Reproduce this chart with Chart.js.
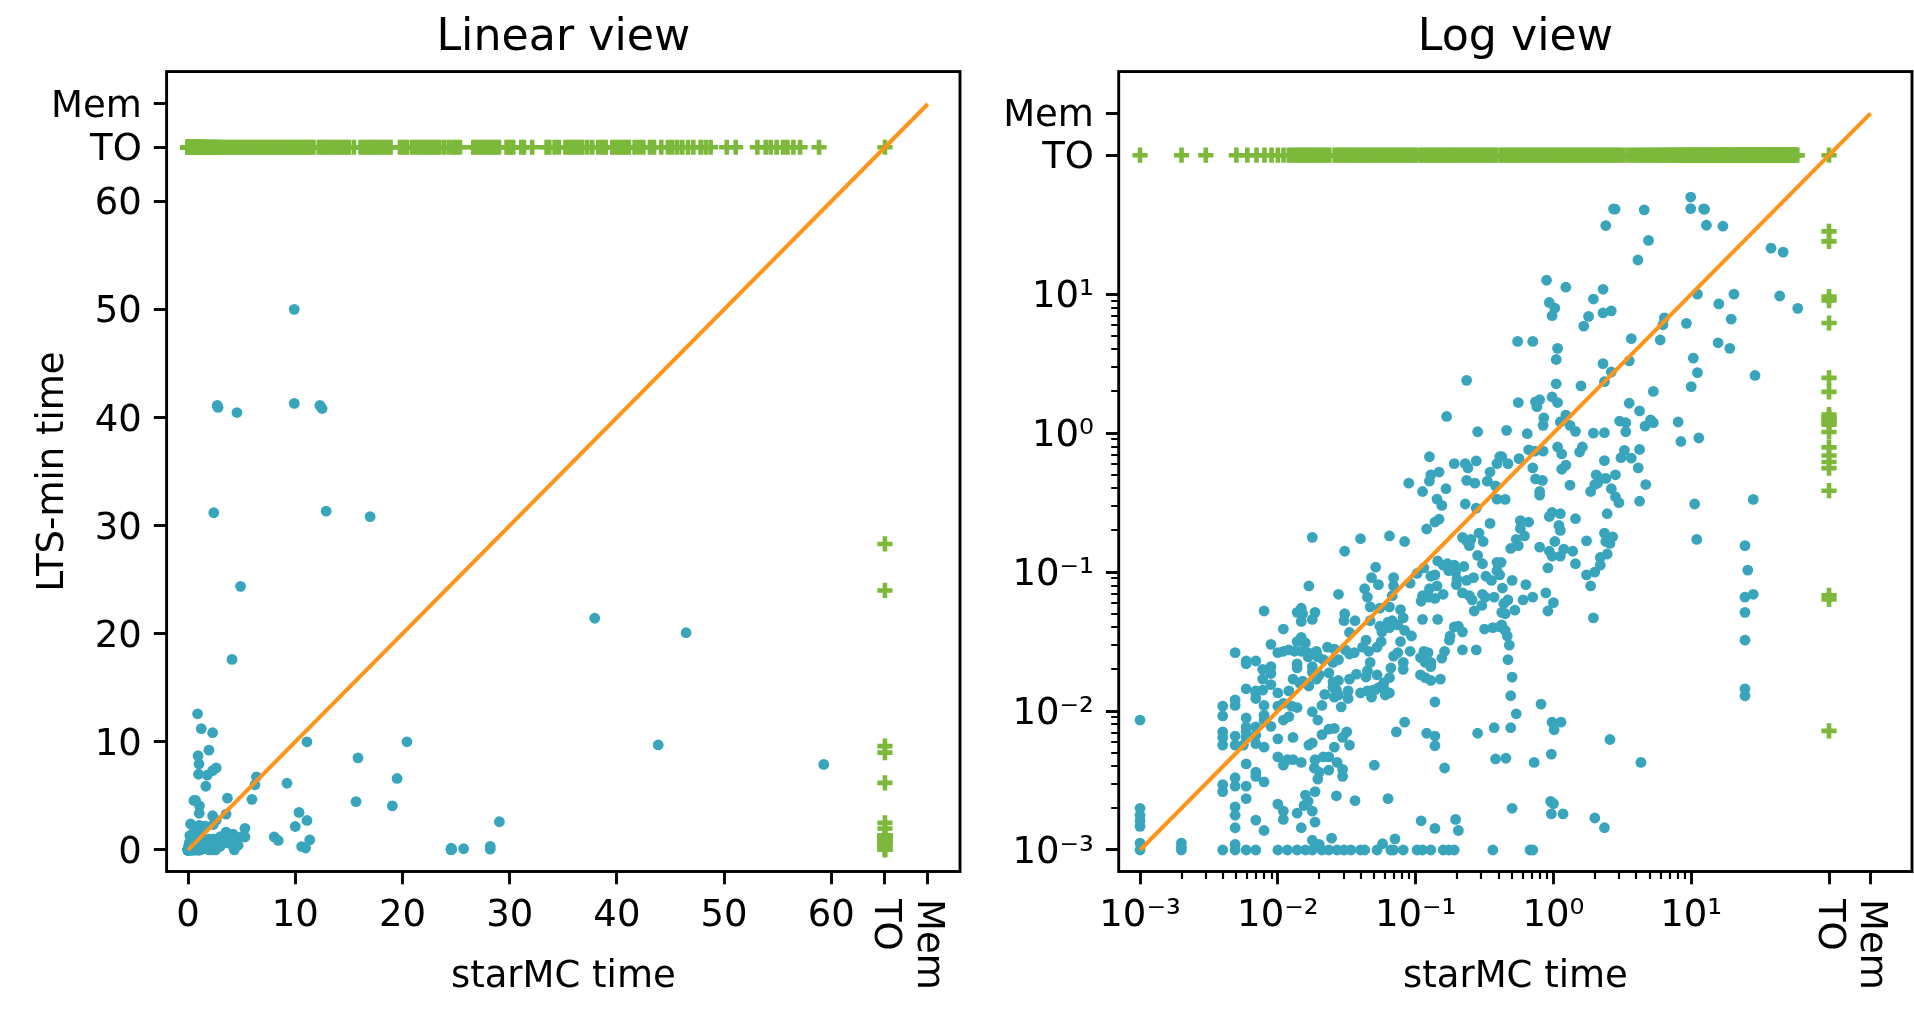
<!DOCTYPE html>
<html>
<head>
<meta charset="utf-8">
<title>Linear and log view</title>
<style>
html,body{margin:0;padding:0;background:#fff;overflow:hidden}
canvas{position:absolute;top:0}
</style>
<script src="https://cdn.jsdelivr.net/npm/chart.js@4"></script>
</head>
<body>
<canvas id="linearChart" width="980" height="1029" style="left:0"></canvas>
<canvas id="logChart" width="934" height="1029" style="left:980px"></canvas>
<script>
// Instances solved by both tools: [log10(starMC time), log10(LTS-min time)]
const solvedLog10 = [
[-.90,-.17],[-.72,-.22],[-.64,-.22],[-.62,-.25],[-.56,-.20],[-.41,-.22],[-.83,-.28],[-.89,-.30],[-.90,-.345],[-1.05,-.36],
[-.78,-.40],[-.95,-.42],[-.63,-.34],[-.57,-.36],[-.48,-.345],[-.46,-.28],[-.42,-.38],[-.845,-.475],[-.81,-.52],[-.64,-.51],
[-.56,-.54],[-.41,-.475],[-.83,-.62],[-.86,-.64],[-.92,-.69],[-.46,-.65],[-.54,-.72],[-.66,-.75],[-.60,-.765],[-.63,-.775],
[-.51,-.78],[-.61,-.81],[-.55,-.88],[-.84,-.92],[-.515,-.94],[-.41,-.93],[-1.19,-.74],[-1.08,-.78],[-1.40,-.76],[-1.75,-.75],
[-1.515,-.85],[-1.29,-.965],[-.94,-.97],[-.77,-.94],[-.72,-.95],[-.65,-.96],[-.80,-.95],[-.76,-.99],[-.71,-1.00],[-.99,-1.01],
[-.86,-1.02],[-.89,-1.03],[-1.32,-1.04],[-1.16,-1.04],[-1.27,-1.09],[-.58,-1.04],[-.63,-1.06],[-.70,-1.05],[-.49,-1.03],[-.45,-1.06],
[-.41,-.99],[-.705,-1.09],[-1.04,-1.08],[-1.16,-1.10],[-1.37,-1.12],[-.90,-1.12],[-.845,-1.10],[-1.775,-1.10],[-1.56,-1.16],[-1.35,-1.18],
[-1.17,-1.17],[-.66,-1.15],[-.61,-1.17],[-.80,-1.16],[-.95,-1.17],[-.905,-1.18],[-.86,-1.19],[-.96,-1.21],[-.59,-1.20],[-.515,-1.16],
[-.495,-1.18],[-.43,-1.18],[-1.33,-1.25],[-1.19,-1.25],[-1.26,-1.26],[-2.10,-1.28],[-1.83,-1.26],[-1.86,-1.29],[-1.82,-1.30],[-1.73,-1.29],
[-1.515,-1.30],[-1.11,-1.27],[-.52,-1.24],[-.575,-1.28],[-.375,-1.29],[-1.75,-1.34],[-1.83,-1.355],[-1.52,-1.35],[-1.44,-1.35],[-1.33,-1.35],
[-1.09,-1.33],[-.95,-1.34],[-.84,-1.34],[-1.17,-1.35],[-1.20,-1.36],[-1.26,-1.39],[-1.245,-1.43],[-1.19,-1.40],[-1.13,-1.38],[-1.08,-1.42],
[-1.03,-1.46],[-.69,-1.39],[-.72,-1.395],[-.66,-1.43],[-.75,-1.46],[-.755,-1.49],[-.50,-1.41],[-.44,-1.40],[-.39,-1.395],[-1.96,-1.41],
[-1.48,-1.435],[-1.83,-1.47],[-1.86,-1.50],[-1.80,-1.51],[-1.36,-1.49],[-1.25,-1.50],[-1.11,-1.50],[-2.05,-1.52],[-1.64,-1.54],[-1.385,-1.54],
[-1.28,-1.54],[-1.34,-1.57],[-.66,-1.56],[-.56,-1.56],[-1.92,-1.56],[-1.96,-1.57],[-2.00,-1.58],[-1.88,-1.57],[-2.31,-1.58],[-1.83,-1.57],
[-1.78,-1.58],[-1.72,-1.57],[-1.59,-1.555],[-1.51,-1.56],[-1.445,-1.58],[-1.48,-1.59],[-1.04,-1.57],[-.94,-1.57],[-.91,-1.58],[-.79,-1.57],
[-1.78,-1.61],[-1.71,-1.61],[-1.67,-1.63],[-1.13,-1.58],[-1.16,-1.605],[-.965,-1.615],[-.81,-1.62],[-2.23,-1.64],[-2.16,-1.64],[-2.23,-1.66],
[-1.86,-1.66],[-1.86,-1.69],[-1.75,-1.68],[-1.60,-1.65],[-1.56,-1.63],[-1.33,-1.65],[-.93,-1.65],[-.89,-1.65],[-1.09,-1.65],[-1.09,-1.70],
[-1.18,-1.69],[-.89,-1.68],[-2.05,-1.68],[-2.11,-1.70],[-2.05,-1.73],[-2.11,-1.77],[-1.75,-1.72],[-1.70,-1.74],[-1.63,-1.725],[-1.72,-1.77],
[-1.35,-1.71],[-1.36,-1.755],[-1.43,-1.735],[-1.48,-1.77],[-1.28,-1.74],[-1.19,-1.76],[-.965,-1.74],[-.93,-1.76],[-.89,-1.78],[-.82,-1.77],
[-1.89,-1.77],[-1.82,-1.785],[-1.84,-1.80],[-2.05,-1.81],[-2.11,-1.85],[-2.16,-1.855],[-1.92,-1.855],[-1.775,-1.82],[-1.60,-1.79],[-1.56,-1.78],
[-1.60,-1.83],[-1.575,-1.85],[-1.23,-1.795],[-1.265,-1.83],[-1.35,-1.855],[-1.31,-1.85],[-1.29,-1.845],[-1.23,-1.84],[-1.19,-1.87],[-1.22,-1.885],
[-1.49,-1.855],[-2.23,-1.84],[-2.16,-1.87],[-2.16,-1.91],[-2.00,-1.87],[-1.66,-1.88],[-1.59,-1.90],[-1.49,-1.91],[-1.56,-1.885],[-1.40,-1.87],
[-1.32,-1.90],[-2.31,-1.92],[-2.31,-1.96],[-2.40,-1.965],[-2.40,-2.035],[-2.10,-1.96],[-2.00,-1.965],[-1.96,-1.945],[-1.90,-1.965],[-1.86,-1.975],
[-1.68,-1.96],[-1.54,-1.97],[-.86,-1.935],[-1.75,-2.005],[-2.10,-2.03],[-1.71,-2.065],[-1.96,-2.065],[-1.92,-2.04],[-2.23,-2.05],[-3.00,-2.065],
[-1.08,-2.08],[-2.10,-2.065],[-2.23,-2.115],[-2.16,-2.115],[-2.05,-2.11],[-2.23,-2.15],[-1.63,-2.13],[-1.59,-2.125],[-1.50,-2.15],[-1.14,-2.15],
[-.92,-2.16],[-.86,-2.18],[-.55,-2.16],[-.43,-2.12],[-2.40,-2.15],[-2.40,-2.19],[-2.31,-2.18],[-2.23,-2.19],[-2.16,-2.175],[-2.00,-2.20],
[-1.89,-2.19],[-1.68,-2.17],[-1.53,-2.19],[-2.31,-2.245],[-2.40,-2.245],[-2.25,-2.245],[-2.16,-2.235],[-2.10,-2.26],[-1.775,-2.245],[-1.75,-2.23],
[-1.59,-2.26],[-1.48,-2.245],[-.86,-2.25],[-2.00,-2.33],[-1.93,-2.35],[-1.89,-2.35],[-1.83,-2.37],[-1.96,-2.39],[-1.73,-2.35],[-1.67,-2.33],
[-1.63,-2.33],[-1.57,-2.37],[-1.53,-2.42],[-1.53,-2.47],[-1.735,-2.41],[-1.70,-2.44],[-1.63,-2.425],[-1.71,-2.49],[-1.30,-2.39],[-.79,-2.41],
[-.42,-2.345],[-2.23,-2.38],[-2.16,-2.44],[-2.16,-2.47],[-2.31,-2.48],[-2.31,-2.54],[-2.40,-2.53],[-2.40,-2.58],[-2.23,-2.54],[-2.10,-2.51],
[-1.73,-2.58],[-1.80,-2.605],[-1.575,-2.61],[-1.44,-2.645],[-1.20,-2.63],[-2.23,-2.63],[-2.00,-2.67],[-1.78,-2.65],[-1.81,-2.68],[-1.75,-2.72],
[-1.96,-2.72],[-2.31,-2.69],[-2.31,-2.75],[-1.86,-2.735],[-1.96,-2.78],[-1.73,-2.80],[-.96,-2.79],[-.71,-2.78],[-.86,-2.845],[-.69,-2.86],
[-2.16,-2.785],[-2.31,-2.84],[-1.83,-2.84],[-2.10,-2.86],[-3.00,-2.70],[-3.00,-2.75],[-3.00,-2.79],[-3.00,-2.83],[-3.00,-2.95],[-2.70,-2.95],
[-2.70,-2.98],[-3.00,-3.00],[-2.70,-3.00],[-1.61,-2.915],[-1.75,-2.93],[-1.70,-2.96],[-1.15,-2.92],[-1.24,-2.955],[-2.31,-2.96],
[-2.40,-3],[-2.31,-3],[-2.23,-3],[-2.16,-3],[-2.00,-3],[-1.93,-3],[-1.86,-3],[-1.80,-3],[-1.75,-3],[-1.68,-3],[-1.63,-3],[-1.57,-3],[-1.52,-3],
[-1.47,-3],[-1.40,-3],[-1.37,-3],[-1.28,-3],[-1.18,-3],[-1.16,-3],[-1.09,-3],[-.99,-3],[-.95,-3],[-.89,-3],[-.80,-3],[-.76,-3],[-.72,-3],[-.44,-3],
[-.63,.38],[-.775,.12],[-.55,.01],[-.39,-.17],
[.996,1.699],[.436,1.614],[.447,1.612],[.659,1.607],[.996,1.616],[1.09,1.614],[1.097,1.611],[.38,1.494],[1.11,1.496],[1.23,1.489],[.69,1.387],[.613,1.246],
[1.579,1.331],[1.667,1.303],[-.05,1.10],[.09,1.05],[.36,1.035],[1.045,1.00],[1.31,1.00],[1.642,.987],[.29,.965],[-.03,.94],
[.01,.90],[1.20,.93],[1.773,.898],[.42,.88],[.36,.865],[-.01,.845],[.255,.84],[.805,.83],[1.29,.82],[.795,.78],
[.22,.77],[.965,.79],[.565,.68],[.775,.67],[-.26,.66],[-.15,.66],[1.195,.65],[1.28,.61],[.03,.61],[.02,.53],
[1.015,.54],[.55,.52],[.36,.50],[.42,.44],[1.045,.435],[1.463,.415],[.37,.37],[.02,.355],[.20,.34],[1.00,.335],
[.725,.30],[-.255,.22],[-.10,.24],[-.13,.225],[-.12,.19],[-.01,.26],[.03,.22],[.55,.215],[.625,.16],[.09,.13],
[-.07,.11],[.05,.08],[.48,.087],[.525,.075],[.705,.095],[.725,.075],[.665,.05],[.905,.08],[-.075,.056],[.12,.056],
[.16,.013],[.525,.01],[-.34,.02],[-.19,-.004],[.29,0],[.37,.003],[.925,-.06],[1.055,-.035],[.03,-.10],[.21,-.10],
[.19,-.136],[.515,-.124],[.625,-.117],[-.18,-.12],[-.135,-.13],[-.075,-.13],[.06,-.15],[-.375,-.17],[-.25,-.184],[-.33,-.22],
[.49,-.177],[.565,-.18],[.37,-.198],[.09,-.23],[.06,-.26],[-.15,-.25],[.615,-.25],
[-.13,-.33],[-.08,-.34],[.31,-.30],[.335,-.326],[.38,-.326],[.45,-.30],[.32,-.36],[.30,-.37],[.12,-.374],[.67,-.37],
[.27,-.42],[.42,-.40],[.45,-.458],[.475,-.50],[-.10,-.42],[-.10,-.446],[-.35,-.477],[.625,-.49],[1.025,-.51],[1.45,-.477],
[-.01,-.57],[-.03,-.60],[.05,-.58],[.16,-.616],[.39,-.58],[-.24,-.63],[-.18,-.64],[-.24,-.686],[.04,-.664],[.05,-.70],
[.37,-.72],[.43,-.746],[-.21,-.74],[-.27,-.765],[-.255,-.81],[-.31,-.83],[.38,-.78],[.41,-.794],[.24,-.775],[.01,-.78],
[-.10,-.82],[1.04,-.765],[1.39,-.81],[-.03,-.85],[-.01,-.885],[.05,-.885],[.075,-.835],[.14,-.85],[.39,-.87],[.34,-.895],
[.16,-.94],[-.04,-.97],[.34,-.95],[.30,-1.00],[.24,-1.02],[.27,-1.10],[1.41,-.986],[1.45,-1.16],[1.39,-1.18],[1.39,-1.29],
[1.39,-1.49],[1.39,-1.84],[1.39,-1.89],[-.38,-.93],[-.39,-1.02],[-.30,-1.06],[-.20,-1.09],[-.37,-1.115],[-.055,-1.15],[-.15,-1.18],
[-.33,-1.20],[-.22,-1.20],[0,-1.22],[-.36,-1.226],[-.35,-1.30],[-.28,-1.274],[-.04,-1.28],[.29,-1.33],[-.375,-1.38],[-.35,-1.42],
[-.335,-1.46],[-.32,-1.526],[-.33,-1.63],[-.30,-1.756],[-.31,-1.89],[-.09,-1.95],[-.27,-2.02],[-.01,-2.08],[.055,-2.08],[.005,-2.135],
[-.31,-2.12],[.41,-2.205],[-.345,-2.34],[-.14,-2.37],[-.015,-2.31],[.635,-2.37],[-.02,-2.65],[0,-2.666],[-.30,-2.70],[-.015,-2.74],
[.07,-2.74],[.30,-2.77],[.37,-2.84],[-.17,-3],[-.15,-3]
];

// LTS-min timed out: starMC time in seconds (the row at LTS-min = TO)
const ltsTimeoutStarmc = [
.001,.002,.003,.005,.006,.007,.008,.009,.01,.011,.012,.0128,.0135,.0141,.0148,.0155,.0162,.017,.0178,.0187,.0196,.0205,.0215,.0225,.0236,.0258,.027,.0283,.0297,.0311,
.0326,.0342,.0358,.0375,.0393,.0412,.0432,.0453,.0475,.0498,.0522,.0547,.0573,.0601,.063,.066,.0692,.0725,.076,.0797,.0835,.0875,.0917,.0961,.1007,.1085,.1137,.1192,.1249,.1309,
.1372,.1438,.1507,.158,.1655,.1735,.1795,.188,.198,.2075,.2175,.228,.239,.2505,.2625,.275,.2885,.302,.3165,.332,.348,.365,.3825,.4135,.4335,.4545,.476,.499,.523,.548,
.5745,.602,.631,.6615,.6935,.7285,.7635,.80,.839,.879,.921,.966,1.012,1.061,1.112,1.165,1.221,1.28,1.342,1.406,1.474,1.545,1.619,1.697,1.778,1.864,1.953,2.047,2.146,2.249,
2.357,2.47,2.589,2.714,2.845,2.98,3.2,3.45,3.7,3.95,4.2,4.45,4.7,4.95,5.2,5.45,5.7,5.95,6.2,6.45,6.7,6.95,7.2,7.45,7.7,7.95,8.2,8.45,8.7,8.95,
9.2,9.45,9.7,9.95,10.2,10.45,10.7,10.95,11.2,11.45,11.7,12.2,12.5,12.8,13.1,13.45,13.76,14.07,14.38,14.69,15.0,15.47,16.09,16.4,16.71,17.02,17.27,
17.64,17.96,18.27,18.58,18.89,19.76,20.13,20.44,20.91,21.22,21.53,21.84,22.22,22.53,22.84,23.15,23.43,23.86,24.3,24.73,25.05,25.36,26.6,26.91,27.22,27.53,27.85,28.16,28.47,28.78,
29.0,29.71,30.02,30.33,31.08,31.33,32.1,33.44,33.69,34.19,34.59,35.2,35.53,35.84,36.15,36.46,36.77,37.24,37.7,38.26,38.64,38.95,39.57,39.88,40.19,40.5,40.81,41.12,41.65,42.06,
42.46,43.08,43.46,44.14,44.76,45.17,45.63,46.1,46.63,47.13,47.81,48.28,48.74,50.24,51.08,53.1,53.88,54.34,54.9,55.49,55.9,56.46,57.08,58.85,'TO'
];

// starMC timed out: LTS-min time in seconds (the column at starMC = TO)
const starmcTimeoutLts = [
28.3,24.0,9.6,9.0,6.2,2.5,1.98,1.36,1.30,1.25,1.20,1.15,1.02,.79,.69,.62,.56,.385,.068,.0635,.0072
];

// Diagonal y = x, from the fastest time to the Mem sentinel
const diagonalEnds = [.001,'Mem'];

const linearTickValues = [0,10,20,30,40,50,60,65,69];
const linearTickLabels = ['0','10','20','30','40','50','60','TO','Mem'];
const logTickValues = [.001,.01,.1,1,10,100,200];
const logTickLabels = ['10⁻³','10⁻²','10⁻¹','10⁰','10¹','TO','Mem'];
const logMinorDecades = [.001,.01,.1,1];
const logMinorSteps = [2,3,4,5,6,7,8,9];

const seriesColors = {solved:'#38A5BD', timeout:'#7CB93B', diagonal:'#FF9419'};
const FONT = '"DejaVu Sans"';

function buildDatasets(sentinel){
  const val = v => (typeof v === 'string' ? sentinel[v] : v);
  return [
    {data: solvedLog10.map(p => ({x: Math.pow(10,p[0]), y: Math.pow(10,p[1])})),
     order:3, pointRadius:5.4, pointBackgroundColor:seriesColors.solved, pointBorderWidth:0},
    {data: ltsTimeoutStarmc.map(x => ({x: val(x), y: sentinel.TO}))
        .concat(starmcTimeoutLts.map(y => ({x: sentinel.TO, y: y}))),
     order:2, pointStyle:'cross', pointRadius:7.6, pointBorderColor:seriesColors.timeout, pointBorderWidth:4.6},
    {data: diagonalEnds.map(v => ({x: val(v), y: val(v)})),
     order:1, showLine:true, pointRadius:0, borderColor:seriesColors.diagonal, borderWidth:4}
  ];
}

const framePlugin = {
  id:'frame',
  beforeDraw(chart){
    // matplotlib centres tick text on the digits, a little below the canvas middle baseline
    const s = chart.scales.y;
    if (!s.$nudged) {
      s.getLabelItems(chart.chartArea).forEach(it => { it.options.translation[1] += 3.5; });
      s.$nudged = true;
    }
  },
  afterDraw(chart, args, opts){
    const ctx = chart.ctx, a = chart.chartArea, sx = chart.scales.x, sy = chart.scales.y;
    ctx.save();
    ctx.strokeStyle = '#000';
    if (opts.minor) {
      ctx.lineWidth = 2.2;
      ctx.beginPath();
      logMinorDecades.forEach(d => logMinorSteps.forEach(m => {
        const px = Math.round(sx.getPixelForValue(d*m)), py = Math.round(sy.getPixelForValue(d*m));
        ctx.moveTo(px, a.bottom); ctx.lineTo(px, a.bottom+7.5);
        ctx.moveTo(a.left, py); ctx.lineTo(a.left-7.5, py);
      }));
      ctx.stroke();
    }
    ctx.lineWidth = 2.9;
    ctx.strokeRect(a.left, a.top, a.right-a.left, a.bottom-a.top);
    ctx.fillStyle = '#000';
    ctx.font = '37px ' + FONT;
    ctx.textBaseline = 'middle';
    ctx.textAlign = 'left';
    opts.rotated.forEach(r => {
      ctx.save();
      ctx.translate(sx.getPixelForValue(r.value), a.bottom + 27.5);
      ctx.rotate(Math.PI/2);
      ctx.fillText(r.label, 0, 0);
      ctx.restore();
    });
    ctx.restore();
  }
};

function makeChart(id, cfg){
  const fixScale = (prop, size) => s => {
    s[prop] = size;
    s.paddingLeft = s.paddingRight = s.paddingTop = s.paddingBottom = 0;
  };
  const xLabel = v => { const i = cfg.ticks.indexOf(v); return (i<0 || cfg.rotated.includes(cfg.labels[i])) ? '' : cfg.labels[i]; };
  const yLabel = v => { const i = cfg.ticks.indexOf(v); return i<0 ? '' : cfg.labels[i]; };
  const grid = {drawOnChartArea:false, drawTicks:true, tickLength:12.8, tickWidth:2.9, tickColor:'#000'};
  const tickFont = {family:FONT, size:37};
  new Chart(document.getElementById(id), {
    type:'scatter',
    data:{datasets:buildDatasets(cfg.sentinel)},
    plugins:[framePlugin],
    options:{
      responsive:false, animation:false, devicePixelRatio:1, events:[],
      layout:{autoPadding:false, padding:{left:0,top:0,bottom:0,right:cfg.rightPad}},
      plugins:{
        legend:{display:false}, tooltip:{enabled:false},
        title:{display:true, text:cfg.title, color:'#000', fullSize:false,
          font:{family:FONT,size:44.3,weight:'normal'}, padding:{top:12,bottom:6.4}},
        frame:{minor:cfg.minor, rotated:cfg.ticks.map((v,i)=>({value:v,label:cfg.labels[i]})).filter(t=>cfg.rotated.includes(t.label))}
      },
      scales:{
        x:{type:cfg.type, min:cfg.xMin, max:cfg.xMax, grid:grid, border:{display:false},
          afterFit:fixScale('height',157.5),
          afterBuildTicks:s=>{s.ticks=cfg.ticks.map(v=>({value:v}));},
          ticks:{color:'#000',font:tickFont,padding:10,autoSkip:false,maxRotation:0,minRotation:0,callback:xLabel},
          title:{display:true,text:'starMC time',color:'#000',font:{family:FONT,size:37},padding:{top:0,bottom:29.4}}},
        y:{type:cfg.type, min:cfg.yMin, max:cfg.yMax, grid:grid, border:{display:false},
          afterFit:fixScale('width',cfg.yWidth),
          afterBuildTicks:s=>{s.ticks=cfg.ticks.map(v=>({value:v}));},
          ticks:{color:'#000',font:tickFont,padding:12,autoSkip:false,callback:yLabel},
          title:{display:cfg.yTitle!=='',text:cfg.yTitle,color:'#000',font:{family:FONT,size:37},padding:{top:31.5,bottom:0}}}
      }
    }
  });
}

makeChart('linearChart',{
  type:'linear', title:'Linear view', sentinel:{TO:65,Mem:69},
  xMin:-2,xMax:72,yMin:-2,yMax:72, ticks:linearTickValues, labels:linearTickLabels,
  rotated:['TO','Mem'], minor:false, yWidth:166.6, rightPad:20, yTitle:'LTS-min time'
});
makeChart('logChart',{
  type:'logarithmic', title:'Log view', sentinel:{TO:100,Mem:200},
  xMin:.0007,xMax:400,yMin:.0007,yMax:400, ticks:logTickValues, labels:logTickLabels,
  rotated:['TO','Mem'], minor:true, yWidth:138.7, rightPad:2, yTitle:''
});
</script>
</body>
</html>
